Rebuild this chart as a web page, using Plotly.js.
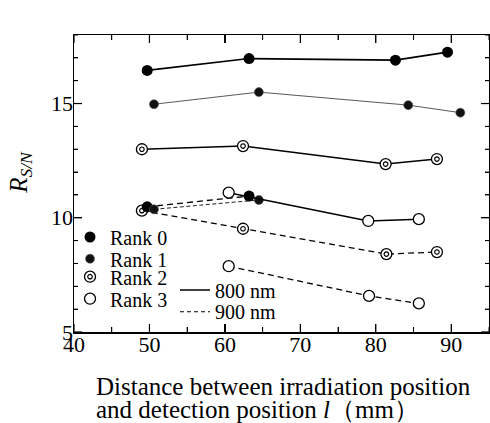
<!DOCTYPE html>
<html>
<head>
<meta charset="utf-8">
<script src="https://cdn.plot.ly/plotly-3.0.1.min.js"></script>
<style>html,body{margin:0;padding:0;background:#fff;}#chart{width:490px;height:423px;}</style>
</head>
<body>
<div id="chart"></div>
<script>
// Distance l (mm) and R_S/N values per rank and wavelength
var l_r0_800 = [49.7, 63.2, 82.6, 89.5];
var r0_800   = [16.45, 16.97, 16.9, 17.25];
var l_r1_800 = [50.6, 64.5, 84.3, 91.2];
var r1_800   = [14.97, 15.5, 14.93, 14.6];
var l_r2_800 = [49.0, 62.4, 81.3, 88.1];
var r2_800   = [13.0, 13.14, 12.35, 12.57];
var l_r3_800 = [60.5, 79.0, 85.7];
var r3_800   = [11.1, 9.86, 9.94];

var l_r0_900 = [49.7, 63.2];
var r0_900   = [10.48, 10.95];
var l_r1_900 = [50.6, 64.5];
var r1_900   = [10.37, 10.78];
var l_r2_900 = [49.0, 62.4, 81.4, 88.1];
var r2_900   = [10.31, 9.52, 8.41, 8.5];
var l_r3_900 = [60.5, 79.1, 85.7];
var r3_900   = [7.88, 6.58, 6.25];

var rankNames = ["Rank 0", "Rank 1", "Rank 2", "Rank 3"];
var waveNames = ["800 nm", "900 nm"];
var xTicks = [40, 50, 60, 70, 80, 90];
var xMinor = [45, 55, 65, 75, 85, 95];
var yTicks = [5, 10, 15];
var yMinor = [6, 7, 8, 9, 11, 12, 13, 14, 16, 17, 18];

var SERIF = "Liberation Serif, Times New Roman, serif";
var DASH = "6px,4px";
var FINE = "4px,2.5px";

var mk = {
  r0: {symbol: "circle", size: 11, color: "#000", line: {width: 0}},
  r1: {symbol: "circle", size: 9, color: "#111", line: {width: 0.6, color: "#555"}},
  r2: {symbol: "circle", size: 11, color: "#fff", line: {width: 1.3, color: "#000"}},
  r2in: {symbol: "circle-open", size: 4.5, color: "#000", line: {width: 1.2, color: "#000"}},
  r3: {symbol: "circle", size: 11, color: "#fff", line: {width: 1.3, color: "#000"}}
};

function series(x, y, line, marker) {
  return {x: x, y: y, type: "scatter", mode: "lines+markers", line: line,
          marker: marker, showlegend: false, hoverinfo: "skip"};
}
function pts(x, y, marker) {
  return {x: x, y: y, type: "scatter", mode: "markers", marker: marker,
          showlegend: false, hoverinfo: "skip"};
}
function legItem(name, legend, marker, line) {
  var t = {x: [null], y: [null], type: "scatter", name: name, legend: legend, showlegend: true};
  if (marker) { t.mode = "markers"; t.marker = marker; }
  else { t.mode = "lines"; t.line = line; }
  return t;
}

var data = [
  series(l_r2_900, r2_900, {color: "#000", width: 1.3, dash: DASH}, mk.r2),
  pts(l_r2_900, r2_900, mk.r2in),
  series(l_r3_900, r3_900, {color: "#000", width: 1.3, dash: DASH}, mk.r3),
  series(l_r0_900, r0_900, {color: "#000", width: 1.3, dash: DASH}, mk.r0),
  series(l_r1_900, r1_900, {color: "#222", width: 1.0, dash: FINE}, mk.r1),
  series(l_r3_800, r3_800, {color: "#000", width: 1.5}, mk.r3),
  series(l_r2_800, r2_800, {color: "#000", width: 1.5}, mk.r2),
  pts(l_r2_800, r2_800, mk.r2in),
  series(l_r1_800, r1_800, {color: "#444", width: 0.9}, mk.r1),
  series(l_r0_800, r0_800, {color: "#000", width: 1.7}, mk.r0),
  legItem(rankNames[0], "legend", mk.r0),
  legItem(rankNames[1], "legend2", mk.r1),
  legItem(rankNames[2], "legend3", mk.r2),
  legItem("\u200b", "legend4", mk.r2in),
  legItem(rankNames[3], "legend5", mk.r3),
  legItem(waveNames[0], "legend6", null, {color: "#000", width: 1.3}),
  legItem(waveNames[1], "legend7", null, {color: "#000", width: 1.1, dash: "4px,3px"})
];

function leg(y, x) {
  return {x: x, y: y, xanchor: "left", yanchor: "middle", bgcolor: "rgba(0,0,0,0)",
          borderwidth: 0, font: {family: SERIF, size: 20, color: "#000"}};
}
var legX1 = -0.0096, legX2 = 0.2434;

// Tick marks on all four sides, built from the tick arrays
var shapes = [];
function xTick(v, len, w) {
  var ln = {color: "#000", width: w};
  shapes.push({type: "line", xref: "x", yref: "paper", ysizemode: "pixel", yanchor: 0, x0: v, x1: v, y0: 0, y1: len, line: ln, layer: "above"});
  shapes.push({type: "line", xref: "x", yref: "paper", ysizemode: "pixel", yanchor: 1, x0: v, x1: v, y0: 0, y1: -len, line: ln, layer: "above"});
}
function yTick(v, len, w) {
  var ln = {color: "#000", width: w};
  shapes.push({type: "line", xref: "paper", yref: "y", xsizemode: "pixel", xanchor: 0, y0: v, y1: v, x0: 0, x1: len, line: ln, layer: "above"});
  shapes.push({type: "line", xref: "paper", yref: "y", xsizemode: "pixel", xanchor: 1, y0: v, y1: v, x0: 0, x1: -len, line: ln, layer: "above"});
}
xTicks.forEach(function(v){ xTick(v, 8, 1.2); });
xMinor.forEach(function(v){ xTick(v, 5, 1); });
yTicks.forEach(function(v){ yTick(v, 8, 1.2); });
yMinor.forEach(function(v){ yTick(v, 4, 1); });

var layout = {
  width: 490, height: 423,
  margin: {l: 74, r: 1, t: 35, b: 91},
  paper_bgcolor: "#fff", plot_bgcolor: "#fff",
  font: {family: SERIF, size: 21, color: "#000"},
  xaxis: {
    range: [40, 95], tickvals: xTicks, ticktext: xTicks.map(String),
    ticks: "inside", ticklen: 8, tickwidth: 1.2, tickcolor: "#000",
    minor: {tickvals: xMinor, ticks: "inside", ticklen: 5, tickwidth: 1, tickcolor: "#000"},
    showline: true, linecolor: "#000", linewidth: 1.5, mirror: "ticks",
    showgrid: false, zeroline: false, ticklabelstandoff: -8,
    tickfont: {family: SERIF, size: 22, color: "#000"}
  },
  yaxis: {
    range: [5, 18], tickvals: yTicks, ticktext: yTicks.map(String),
    ticks: "inside", ticklen: 8, tickwidth: 1.2, tickcolor: "#000",
    minor: {tickvals: yMinor, ticks: "inside", ticklen: 4, tickwidth: 1, tickcolor: "#000"},
    showline: true, linecolor: "#000", linewidth: 1.5, mirror: "ticks",
    showgrid: false, zeroline: false, ticklabelstandoff: -5,
    tickfont: {family: SERIF, size: 22, color: "#000"}
  },
  shapes: shapes,
  legend: leg(0.3199, legX1),
  legend2: leg(0.2468, legX1),
  legend3: leg(0.1862, legX1),
  legend4: leg(0.1862, legX1),
  legend5: leg(0.1121, legX1),
  legend6: leg(0.1414, legX2),
  legend7: leg(0.0684, legX2),
  annotations: [
    {text: "<i>R</i><sub><i>S/N</i></sub>", xref: "paper", yref: "paper",
     x: -0.128, y: 0.539, xanchor: "center", yanchor: "middle", textangle: -90,
     showarrow: false, font: {family: SERIF, size: 25, color: "#000"}},
    {text: "Distance between irradiation position", xref: "paper", yref: "paper",
     x: 0.048, y: -0.185, xanchor: "left", yanchor: "middle", align: "left",
     showarrow: false, font: {family: SERIF, size: 25, color: "#000"}},
    {text: "and detection position <i>l</i>（mm）", xref: "paper", yref: "paper",
     x: 0.048, y: -0.2626, xanchor: "left", yanchor: "middle", align: "left",
     showarrow: false, font: {family: SERIF, size: 25, color: "#000"}}
  ]
};

Plotly.newPlot("chart", data, layout, {displayModeBar: false, staticPlot: true});
</script>
</body>
</html>
